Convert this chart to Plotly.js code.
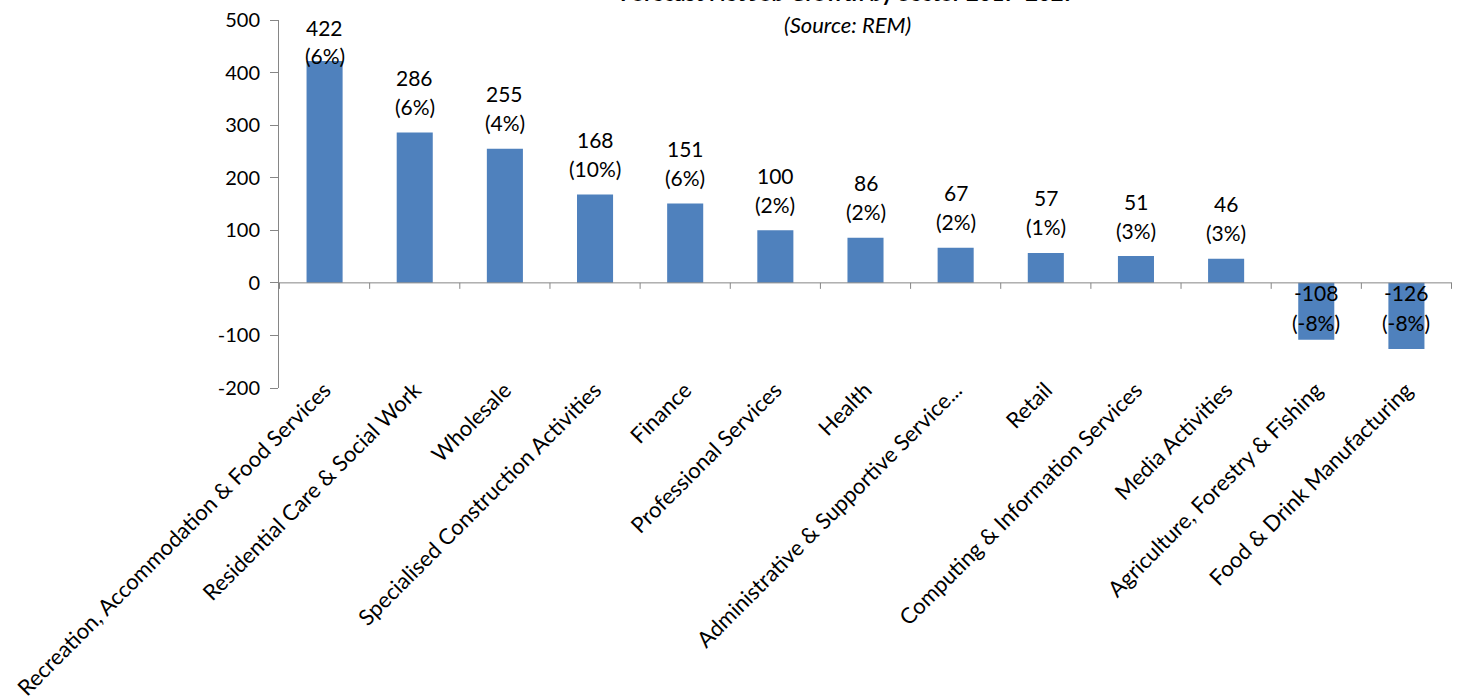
<!DOCTYPE html>
<html>
<head>
<meta charset="utf-8">
<script src="https://cdn.plot.ly/plotly-3.0.1.min.js"></script>
<style>html,body{margin:0;padding:0;background:#fff;}#chart{width:1459px;height:697px;}</style>
</head>
<body>
<div id="chart"></div>
<script>
var categories = [
  "Recreation, Accommodation & Food Services",
  "Residential Care & Social Work",
  "Wholesale",
  "Specialised Construction Activities",
  "Finance",
  "Professional Services",
  "Health",
  "Administrative & Supportive Service...",
  "Retail",
  "Computing & Information Services",
  "Media Activities",
  "Agriculture, Forestry & Fishing",
  "Food & Drink Manufacturing"
];
var values = [422, 286, 255, 168, 151, 100, 86, 67, 57, 51, 46, -108, -126];
var percents = [6, 6, 4, 10, 6, 2, 2, 2, 1, 3, 3, -8, -8];
var yTicks = [-200, -100, 0, 100, 200, 300, 400, 500];

var FONT = "Lato, 'Open Sans', sans-serif";
var marginT = 20, marginB = 309, marginL = 279, marginR = 7;
var plotH = 697 - marginT - marginB;
var yMin = -200, yMax = 500;
var pxPerUnit = plotH / (yMax - yMin);
var LABEL_SIZE = 21;

var annotations = [];
function addLabel(cat, y, text, shift) {
  annotations.push({x: cat, y: y, xref: "x", yref: "y", text: text, showarrow: false,
    yanchor: "middle", yshift: shift, font: {family: FONT, size: LABEL_SIZE, color: "#000"}});
}
for (var i = 0; i < categories.length; i++) {
  var v = values[i];
  var pct = "(" + percents[i] + "%)";
  if (v >= 0) {
    var pxAbove = (yMax - v) * pxPerUnit;
    var upShift = 55, lowShift = 26;
    if (pxAbove - upShift < 7) { upShift = pxAbove - 7; lowShift = upShift - 28; }
    addLabel(categories[i], v, String(v), upShift);
    addLabel(categories[i], v, pct, lowShift);
  } else {
    addLabel(categories[i], 0, String(v), -10);
    addLabel(categories[i], 0, pct, -40);
  }
}
annotations.push({x: 0.485, y: 1, xref: "paper", yref: "paper", yanchor: "middle", yshift: 28,
  text: "<b>Forecast Net Job Growth by Sector 2017-2027</b>", showarrow: false,
  font: {family: FONT, size: 22, color: "#000"}});
annotations.push({x: 0.485, y: 1, xref: "paper", yref: "paper", yanchor: "middle", yshift: -4,
  text: "<i>(Source: REM)</i>", showarrow: false,
  font: {family: FONT, size: 22, color: "#000"}});

var shapes = [];
for (var j = 0; j <= categories.length; j++) {
  shapes.push({type: "line", xref: "x", yref: "y", ysizemode: "pixel", yanchor: 0,
    x0: j - 0.5, x1: j - 0.5, y0: 0, y1: -6, line: {color: "#868686", width: 1}});
}
shapes.push({type: "line", xref: "paper", yref: "y", x0: 0, x1: 1, y0: 0, y1: 0,
  line: {color: "#868686", width: 1}});

var trace = {
  type: "bar",
  x: categories,
  y: values,
  marker: {color: "#4F81BD"},
  hoverinfo: "x+y"
};

var layout = {
  width: 1459, height: 697,
  margin: {l: marginL, r: marginR, t: marginT, b: marginB, pad: 0},
  paper_bgcolor: "#fff", plot_bgcolor: "#fff",
  showlegend: false,
  bargap: 0.6,
  font: {family: FONT, size: 20, color: "#000"},
  xaxis: {
    type: "category",
    tickangle: -45,
    showline: false,
    showgrid: false,
    zeroline: false,
    ticks: "",
    ticklen: 0,
    ticklabelstandoff: -16,
    tickfont: {family: FONT, size: 22, color: "#000"},
    automargin: false
  },
  yaxis: {
    range: [yMin, yMax],
    tickvals: yTicks,
    ticktext: yTicks.map(String),
    showline: true,
    linecolor: "#868686",
    linewidth: 1,
    ticks: "outside",
    ticklen: 8,
    tickcolor: "#868686",
    ticklabelstandoff: 6,
    showgrid: false,
    zeroline: false,
    tickfont: {family: FONT, size: 20, color: "#000"},
    automargin: false
  },
  annotations: annotations,
  shapes: shapes
};

Plotly.newPlot("chart", [trace], layout, {displayModeBar: false, staticPlot: true});
</script>
</body>
</html>
